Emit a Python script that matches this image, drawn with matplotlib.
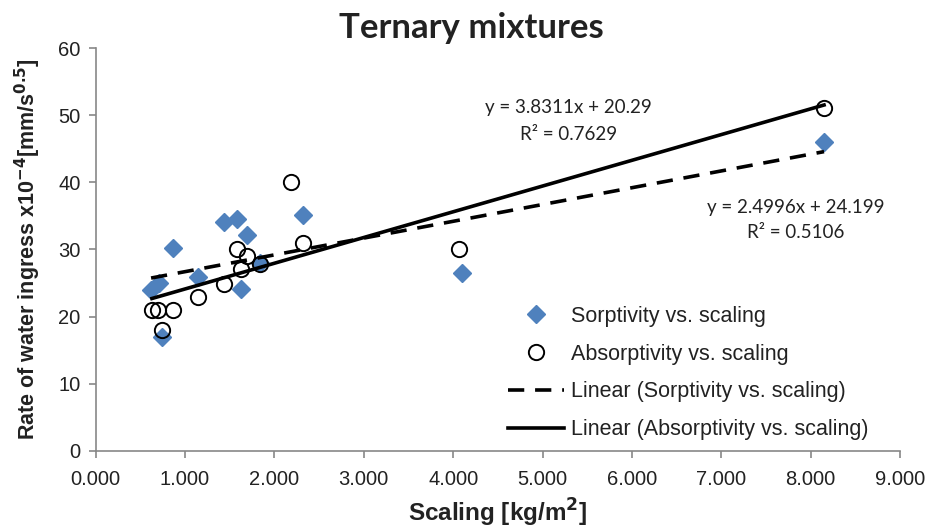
import matplotlib
matplotlib.use("Agg")
import matplotlib.pyplot as plt
import numpy as np

# Sorptivity vs. scaling (diamonds)
sorp_x = [0.62, 0.71, 0.74, 0.87, 1.15, 1.44, 1.58, 1.69, 1.63, 1.84, 2.32, 4.10, 8.15]
sorp_y = [24.0, 25.0, 16.9, 30.2, 25.9, 34.1, 34.6, 32.1, 24.1, 28.0, 35.1, 26.5, 46.0]

# Absorptivity vs. scaling (open circles)
abs_x = [0.63, 0.70, 0.87, 0.74, 1.15, 1.44, 1.58, 1.69, 1.63, 1.84, 2.19, 2.32, 4.06, 8.15]
abs_y = [21.0, 21.0, 21.0, 18.0, 23.0, 24.8, 30.1, 29.1, 27.1, 27.8, 40.0, 31.0, 30.1, 51.0]

# trendline coefficients as printed on the chart
sorp_fit = (2.4996, 24.199, 0.5106)
abs_fit = (3.8311, 20.29, 0.7629)

x_ticks = np.arange(0, 10, 1)
y_ticks = np.arange(0, 70, 10)

plt.rcParams['font.family'] = ['Liberation Sans', 'DejaVu Sans']

fig = plt.figure(figsize=(9.27, 5.31), dpi=100)
ax = fig.add_axes([0.1032, 0.1507, 0.8677, 0.7589])

blue = "#4f81bd"
gray = "#878787"

ax.plot(sorp_x, sorp_y, linestyle="none", marker="D", markersize=9.5,
        color=blue, label="Sorptivity vs. scaling", zorder=3)
ax.plot(abs_x, abs_y, linestyle="none", marker="o", markersize=11,
        markerfacecolor="none", markeredgecolor="black", markeredgewidth=1.4,
        label="Absorptivity vs. scaling", zorder=4)

xs = np.array([min(sorp_x), max(sorp_x)])
ax.plot(xs, sorp_fit[0] * xs + sorp_fit[1], color="black", lw=2.6,
        dashes=(4.5, 3), label="Linear (Sorptivity vs. scaling)", zorder=5)
xa = np.array([min(abs_x), max(abs_x)])
ax.plot(xa, abs_fit[0] * xa + abs_fit[1], color="black", lw=2.6,
        label="Linear (Absorptivity vs. scaling)", zorder=5)

ax.set_xlim(0, 9)
ax.set_ylim(0, 60)
ax.set_xticks(x_ticks)
ax.set_xticklabels(["%.3f" % v for v in x_ticks])
ax.set_yticks(y_ticks)

for s in ["top", "right"]:
    ax.spines[s].set_visible(False)
for s in ["left", "bottom"]:
    ax.spines[s].set_color(gray)
    ax.spines[s].set_linewidth(1.2)
ax.tick_params(axis="both", colors=gray, labelcolor="#222222", labelsize=14.5,
               length=5, width=1.2, direction="out")
ax.tick_params(axis="x", pad=9)
ax.tick_params(axis="y", pad=6)

ax.set_xlabel("Scaling [kg/m$^\\mathbf{2}$]", fontsize=17.5, fontweight="bold",
              color="#222222", labelpad=5)
ax.set_ylabel("Rate of water ingress x10$^{\\mathbf{-4}}$[mm/s$^{\\mathbf{0.5}}$]",
              fontsize=15.5, fontweight="bold", color="#222222", labelpad=11)

fig.text(471 / 927, 1 - 28 / 531, "Ternary mixtures", fontsize=25,
         fontweight="bold", family="Lato", ha="center", va="center", color="#222222")

eq_font = dict(fontsize=13.5, family="Lato", color="#222222", ha="center", va="center")
fig.text(568 / 927, 1 - 107 / 531, "y = %.4fx + %.2f" % (abs_fit[0], abs_fit[1]), **eq_font)
fig.text(569 / 927, 1 - 135 / 531, "R² = %.4f" % abs_fit[2], **eq_font)
fig.text(796 / 927, 1 - 208 / 531, "y = %.4fx + %.3f" % (sorp_fit[0], sorp_fit[1]), **eq_font)
fig.text(796 / 927, 1 - 233 / 531, "R² = %.4f" % sorp_fit[2], **eq_font)

ax.legend(loc="upper left", bbox_to_anchor=(497 / 927, 1 - 295 / 531),
          bbox_transform=fig.transFigure, frameon=False, fontsize=15.5,
          handlelength=2.6, handletextpad=0.35, labelspacing=0.78,
          borderpad=0, labelcolor="#222222")

fig.savefig("out.png", dpi=100)
